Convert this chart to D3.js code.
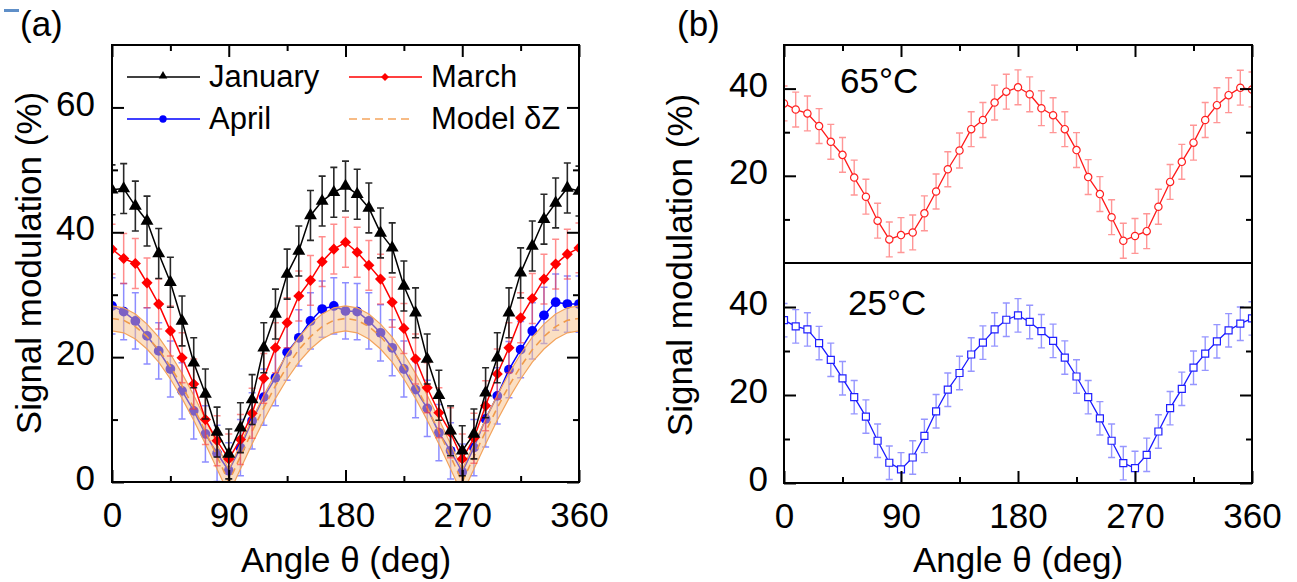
<!DOCTYPE html>
<html>
<head>
<meta charset="utf-8">
<script src="https://cdn.jsdelivr.net/npm/d3@7"></script>
<style>
  html, body { margin: 0; padding: 0; background: #fff; }
  svg { display: block; font-family: "Liberation Sans", Arial, Helvetica, sans-serif; }
</style>
</head>
<body>
<svg id="fig" width="1297" height="582"></svg>
<script>
// Rotation angle of the sample (deg), shared by every series
const angles = [0, 9, 18, 27, 36, 45, 54, 63, 72, 81, 90, 99, 108, 117, 126, 135, 144, 153, 162, 171,
  180, 189, 198, 207, 216, 225, 234, 243, 252, 261, 270, 279, 288, 297, 306, 315, 324, 333, 342, 351, 360];

// Panel (a): signal modulation (%) measured in different months
const january = [46.8, 47.0, 44.2, 41.8, 36.6, 32.0, 25.8, 19.1, 14.1, 8.0, 4.5, 8.7, 13.2, 21.5, 26.9, 33.3, 37.0, 42.7, 45.0, 46.4,
  47.4, 46.1, 43.9, 39.9, 37.5, 31.4, 27.1, 19.7, 13.9, 8.2, 5.0, 7.7, 14.3, 19.9, 27.1, 33.5, 37.8, 42.1, 44.7, 47.1, 46.6];
const march = [37.3, 35.8, 35.0, 31.9, 28.5, 24.2, 19.9, 15.7, 10.0, 6.6, 3.7, 6.8, 11.0, 16.6, 21.5, 25.5, 29.8, 32.3, 35.3, 37.3,
  38.4, 36.8, 34.7, 32.5, 28.8, 24.6, 19.7, 15.1, 11.1, 7.9, 3.7, 7.0, 12.2, 17.3, 21.5, 26.3, 29.4, 32.5, 34.9, 36.5, 37.5];
const april = [28.2, 27.3, 25.8, 23.4, 21.0, 18.1, 14.6, 11.4, 7.7, 4.6, 1.8, 5.5, 9.8, 13.6, 16.7, 20.8, 23.1, 25.8, 27.7, 28.2,
  27.4, 27.3, 25.8, 23.9, 21.5, 18.1, 14.8, 11.8, 7.9, 5.0, 1.6, 5.5, 10.1, 13.8, 18.0, 21.2, 24.2, 26.7, 28.8, 28.5, 28.5];
// Model δZ prediction and the half-width of its uncertainty band
const modelDZ = [26.2, 25.9, 24.9, 23.3, 21.2, 18.5, 15.4, 11.9, 8.1, 4.1, 0.0, 4.1, 8.1, 11.9, 15.4, 18.5, 21.2, 23.3, 24.9, 25.9,
  26.2, 25.9, 24.9, 23.3, 21.2, 18.5, 15.4, 11.9, 8.1, 4.1, 0.0, 4.1, 8.1, 11.9, 15.4, 18.5, 21.2, 23.3, 24.9, 25.9, 26.2];
const modelBand = 2.0;
const errJanuary = 4.0, errMarch = 4.0, errApril = 4.5;

// Panel (b): signal modulation (%) at two temperatures
const temp65 = [36.6, 35.2, 34.3, 31.4, 27.8, 24.8, 19.6, 15.2, 9.7, 5.4, 6.4, 7.0, 11.4, 16.4, 21.5, 25.8, 30.7, 32.8, 36.8, 39.3,
  40.3, 38.7, 35.5, 33.9, 30.7, 25.9, 19.7, 15.8, 10.5, 5.1, 6.2, 7.3, 12.9, 18.6, 23.2, 27.6, 32.8, 36.2, 38.5, 40.2, 39.8];
const temp25 = [37.0, 35.6, 34.9, 31.8, 28.0, 23.8, 19.5, 15.1, 9.6, 4.6, 3.1, 5.8, 10.7, 16.3, 21.2, 25.0, 29.2, 31.9, 34.9, 37.1,
  38.1, 36.6, 34.5, 32.3, 28.5, 24.2, 19.5, 14.7, 9.6, 4.5, 3.4, 6.4, 11.7, 17.0, 21.4, 26.2, 29.4, 32.2, 34.7, 36.2, 37.4];
const err65 = 4.0, err25 = 3.8;

// Tick values
const xMajor = [0, 90, 180, 270, 360];
const xMinor = [45, 135, 225, 315];
const yMajorA = [0, 20, 40, 60];
const yMinorA = [10, 30, 50];
const yMajorTop = [20, 40];
const yMajorBottom = [0, 20, 40];
const yMinorB = [10, 30];

const FONT = '"Liberation Sans", Arial, Helvetica, sans-serif';
const svg = d3.select("#fig");

// small marker at the very top-left corner
svg.append("rect").attr("x", 4).attr("y", 9).attr("width", 15).attr("height", 3).attr("fill", "#5f8fc8");

// ---------- helpers ----------
function tickAxis(axisFn, scale, values, size, translate, withLabels, pad) {
  const ax = axisFn(scale).tickValues(values).tickSizeInner(-size).tickSizeOuter(0).tickPadding(pad || 0);
  if (!withLabels) ax.tickFormat("");
  const g = svg.append("g").attr("transform", translate).call(ax);
  g.attr("font-family", FONT).attr("font-size", 35);
  g.select(".domain").remove();
  g.selectAll("line").attr("stroke", "#000").attr("stroke-width", 2);
  g.selectAll("text").attr("fill", "#000");
  return g;
}

function errorBars(g, x, y, vals, err, color, opacity, width, cap) {
  g.append("g")
    .attr("fill", "none").attr("stroke", color).attr("stroke-width", width).attr("stroke-opacity", opacity)
    .selectAll("path")
    .data(angles.map((a, i) => ({ a, v: vals[i] })))
    .join("path")
    .attr("d", d => {
      const X = x(d.a), lo = y(d.v - err), hi = y(d.v + err);
      return `M${X},${lo}V${hi}M${X - cap},${lo}H${X + cap}M${X - cap},${hi}H${X + cap}`;
    });
}

function seriesLine(g, x, y, vals, color, width) {
  const line = d3.line().x((d, i) => x(angles[i])).y(d => y(d));
  g.append("path").datum(vals).attr("d", line).attr("fill", "none")
    .attr("stroke", color).attr("stroke-width", width).attr("stroke-linejoin", "round");
}

function markers(g, x, y, vals, symbolType, size, fill, stroke, strokeWidth, rotate) {
  const sym = d3.symbol().type(symbolType).size(size);
  g.append("g").selectAll("path")
    .data(angles.map((a, i) => ({ a, v: vals[i] })))
    .join("path")
    .attr("d", sym)
    .attr("transform", d => `translate(${x(d.a)},${y(d.v)})` + (rotate ? ` rotate(${rotate})` : ""))
    .attr("fill", fill).attr("stroke", stroke).attr("stroke-width", strokeWidth);
}

function clipRect(id, x0, y0, x1, y1) {
  svg.append("clipPath").attr("id", id).append("rect")
    .attr("x", x0).attr("y", y0).attr("width", x1 - x0).attr("height", y1 - y0);
  return svg.append("g").attr("clip-path", `url(#${id})`);
}

// ---------- panel (a) ----------
const xa = d3.scaleLinear().domain([0, 360]).range([112, 579]);
const ya = d3.scaleLinear().domain([0, 70]).range([482, 45]);

const ga = clipRect("clipA", 112, 45, 579, 482);

// April (drawn first so the model band tints it)
errorBars(ga, xa, ya, april, errApril, "#3030ff", 0.55, 1.5, 3.5);
seriesLine(ga, xa, ya, april, "#0000ff", 1.5);
markers(ga, xa, ya, april, d3.symbolCircle, 75, "#0000ff", "none", 0);

// Model δZ band, edges and dashed centre line
const bandArea = d3.area()
  .x((d, i) => xa(angles[i]))
  .y0(d => ya(d - modelBand))
  .y1(d => ya(d + modelBand));
ga.append("path").datum(modelDZ).attr("d", bandArea).attr("fill", "#f8bf88").attr("fill-opacity", 0.5);
const edgeLo = d3.line().x((d, i) => xa(angles[i])).y(d => ya(d - modelBand));
const edgeHi = d3.line().x((d, i) => xa(angles[i])).y(d => ya(d + modelBand));
ga.append("path").datum(modelDZ).attr("d", edgeLo).attr("fill", "none").attr("stroke", "#f3a35c").attr("stroke-width", 1.2);
ga.append("path").datum(modelDZ).attr("d", edgeHi).attr("fill", "none").attr("stroke", "#f3a35c").attr("stroke-width", 1.2);
const modelLine = d3.line().x((d, i) => xa(angles[i])).y(d => ya(d));
ga.append("path").datum(modelDZ).attr("d", modelLine).attr("fill", "none")
  .attr("stroke", "#f09a4a").attr("stroke-width", 1.6).attr("stroke-dasharray", "7,5");

// March
errorBars(ga, xa, ya, march, errMarch, "#ff3030", 0.55, 1.5, 3.5);
seriesLine(ga, xa, ya, march, "#ff0000", 1.5);
markers(ga, xa, ya, march, d3.symbolSquare, 62, "#ff0000", "none", 0, 45);

// January
errorBars(ga, xa, ya, january, errJanuary, "#111", 0.9, 1.6, 3.5);
seriesLine(ga, xa, ya, january, "#000", 1.5);
markers(ga, xa, ya, january, d3.symbolTriangle, 72, "#000", "none", 0);

// axes and frame of panel (a)
tickAxis(d3.axisBottom, xa, xMajor, 12, "translate(0,482)", true, 20);
tickAxis(d3.axisBottom, xa, xMinor, 6, "translate(0,482)", false);
tickAxis(d3.axisTop, xa, xMajor, 12, "translate(0,45)", false);
tickAxis(d3.axisTop, xa, xMinor, 6, "translate(0,45)", false);
tickAxis(d3.axisLeft, ya, yMajorA, 12, "translate(112,0)", true, 17).selectAll("text").attr("dy", "0.22em");
tickAxis(d3.axisLeft, ya, yMinorA, 6, "translate(112,0)", false);
tickAxis(d3.axisRight, ya, yMajorA, 12, "translate(579,0)", false);
tickAxis(d3.axisRight, ya, yMinorA, 6, "translate(579,0)", false);
svg.append("rect").attr("x", 112).attr("y", 45).attr("width", 467).attr("height", 437)
  .attr("fill", "none").attr("stroke", "#000").attr("stroke-width", 2);

// legend of panel (a)
const leg = svg.append("g").attr("font-family", FONT).attr("font-size", 31).attr("fill", "#000");
function legendLine(x0, x1, y, color, dash) {
  leg.append("line").attr("x1", x0).attr("x2", x1).attr("y1", y).attr("y2", y)
    .attr("stroke", color).attr("stroke-width", 1.5).attr("stroke-dasharray", dash || null);
}
legendLine(127, 200, 77, "#000");
leg.append("path").attr("d", d3.symbol().type(d3.symbolTriangle).size(32)).attr("transform", "translate(163,76)").attr("fill", "#000");
leg.append("text").attr("x", 209).attr("y", 87).text("January");

legendLine(349, 422, 77, "#ff0000");
leg.append("path").attr("d", d3.symbol().type(d3.symbolSquare).size(32)).attr("transform", "translate(385,77) rotate(45)").attr("fill", "#ff0000");
leg.append("text").attr("x", 431).attr("y", 87).text("March");

legendLine(127, 200, 119, "#0000ff");
leg.append("path").attr("d", d3.symbol().type(d3.symbolCircle).size(42)).attr("transform", "translate(163,119)").attr("fill", "#0000ff");
leg.append("text").attr("x", 209).attr("y", 129).text("April");

legendLine(349, 414, 119, "#f5a55e", "8,5");
leg.append("text").attr("x", 431).attr("y", 129).text("Model δZ");

// ---------- panel (b) ----------
const xb = d3.scaleLinear().domain([0, 360]).range([784, 1252]);
const ybTop = d3.scaleLinear().domain([0, 50]).range([263, 45]);
const ybBot = d3.scaleLinear().domain([0, 50]).range([483, 263]);

const gTop = clipRect("clipBT", 784, 45, 1252, 263);
errorBars(gTop, xb, ybTop, temp65, err65, "#ff4040", 0.55, 1.4, 3.5);
seriesLine(gTop, xb, ybTop, temp65, "#ff1a1a", 1.3);
markers(gTop, xb, ybTop, temp65, d3.symbolCircle, 42, "#fff", "#ff2020", 1.2);

const gBot = clipRect("clipBB", 784, 263, 1252, 483);
errorBars(gBot, xb, ybBot, temp25, err25, "#4040ff", 0.55, 1.4, 3.5);
seriesLine(gBot, xb, ybBot, temp25, "#1a1aff", 1.3);
markers(gBot, xb, ybBot, temp25, d3.symbolSquare, 49, "#fff", "#2020ff", 1.2);

// axes and frames of panel (b)
tickAxis(d3.axisBottom, xb, xMajor, 12, "translate(0,483)", true, 20);
tickAxis(d3.axisBottom, xb, xMinor, 6, "translate(0,483)", false);
tickAxis(d3.axisTop, xb, xMajor, 12, "translate(0,45)", false);
tickAxis(d3.axisTop, xb, xMinor, 6, "translate(0,45)", false);
tickAxis(d3.axisLeft, ybTop, yMajorTop, 12, "translate(784,0)", true, 16).selectAll("text").attr("dy", "0.22em");
tickAxis(d3.axisLeft, ybTop, yMinorB, 6, "translate(784,0)", false);
tickAxis(d3.axisRight, ybTop, yMajorTop, 12, "translate(1252,0)", false);
tickAxis(d3.axisRight, ybTop, yMinorB, 6, "translate(1252,0)", false);
tickAxis(d3.axisLeft, ybBot, yMajorBottom, 12, "translate(784,0)", true, 16).selectAll("text").attr("dy", "0.22em");
tickAxis(d3.axisLeft, ybBot, yMinorB, 6, "translate(784,0)", false);
tickAxis(d3.axisRight, ybBot, yMajorBottom, 12, "translate(1252,0)", false);
tickAxis(d3.axisRight, ybBot, yMinorB, 6, "translate(1252,0)", false);
svg.append("rect").attr("x", 784).attr("y", 45).attr("width", 468).attr("height", 438)
  .attr("fill", "none").attr("stroke", "#000").attr("stroke-width", 2);
svg.append("line").attr("x1", 784).attr("x2", 1252).attr("y1", 263).attr("y2", 263)
  .attr("stroke", "#000").attr("stroke-width", 2);

// ---------- titles and labels ----------
const txt = svg.append("g").attr("font-family", FONT).attr("fill", "#000");
txt.append("text").attr("x", 20).attr("y", 36).attr("font-size", 35).text("(a)");
txt.append("text").attr("x", 677).attr("y", 36).attr("font-size", 35).text("(b)");
txt.append("text").attr("x", 840).attr("y", 93).attr("font-size", 35).text("65°C");
txt.append("text").attr("x", 848).attr("y", 315).attr("font-size", 35).text("25°C");

txt.append("text").attr("x", 346).attr("y", 572).attr("font-size", 35).attr("text-anchor", "middle").text("Angle θ (deg)");
txt.append("text").attr("x", 1018).attr("y", 572).attr("font-size", 35).attr("text-anchor", "middle").text("Angle θ (deg)");

txt.append("text").attr("transform", "translate(41,263) rotate(-90)").attr("font-size", 35)
  .attr("text-anchor", "middle").text("Signal modulation (%)");
txt.append("text").attr("transform", "translate(692,265) rotate(-90)").attr("font-size", 35)
  .attr("text-anchor", "middle").text("Signal modulation (%)");
</script>
</body>
</html>
